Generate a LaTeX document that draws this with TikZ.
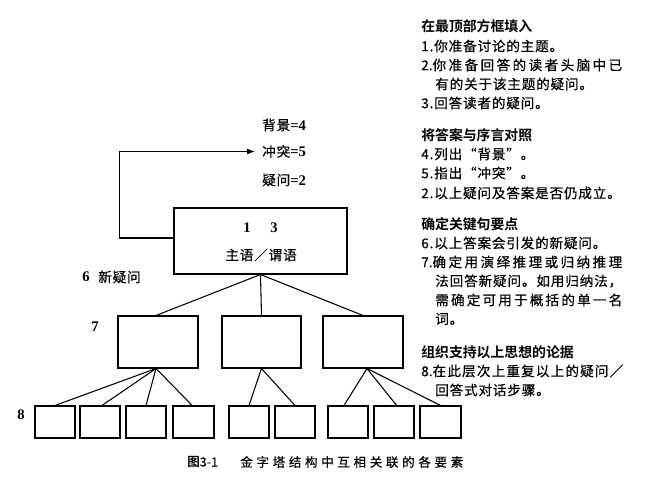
\documentclass[tikz,border=0pt]{standalone}
\usepackage{fontspec}
\setmainfont{Liberation Serif}
\newfontfamily\cjk[LetterSpace=6,FakeBold=0.5]{Noto Sans CJK SC}
\newfontfamily\cjkj[FakeBold=0.5]{Noto Sans CJK SC}
\newfontfamily\cjkh{Noto Sans CJK SC Bold}
\usetikzlibrary{arrows.meta}
\makeatletter
\def\jl@end{\jl@end}
\def\jl@loop#1{\ifx#1\jl@end\else\hfil#1\expandafter\jl@loop\fi}
\def\jl@first#1{#1\jl@loop}
\newcommand\jline[3]{\hbox to #1{#2\jl@first#3\jl@end}}
\makeatother
\newcommand\bodyf{\cjk\fontsize{10.2pt}{12pt}\selectfont}
\newcommand\bodyj{\cjkj\fontsize{10.2pt}{12pt}\selectfont}
\newcommand\headf{\cjkh\fontsize{10.4pt}{12pt}\selectfont}
\newcommand\numf{\rmfamily\bfseries\fontsize{11pt}{13pt}\selectfont}
\tikzset{
  bx/.style 2 args={draw, line width=0.8pt, inner sep=0pt, minimum width=#1*0.75pt, minimum height=#2*0.75pt},
  txt/.style={inner sep=0pt, anchor=west, font=\bodyf},
  jtxt/.style={inner sep=0pt, anchor=west, font=\bodyj},
  hd/.style={inner sep=0pt, anchor=west, font=\headf},
  lbl/.style={inner sep=0pt, font=\numf},
  conn/.style={line width=0.8pt},
  arr/.style={line width=0.8pt, -{Latex[length=6pt,width=4.5pt]}}
}
\begin{document}
\begin{tikzpicture}[x=0.75pt, y=-0.75pt]
\useasboundingbox (0,0) rectangle (650,477);
% boxes
\node[bx={173}{66}] (top) at (260.5,241) {};
\node[bx={80}{52}] (m1) at (158,342) {};
\node[bx={79}{52}] (m2) at (261.5,342) {};
\node[bx={80}{52}] (m3) at (363,342) {};
\node[bx={40}{32}] (a) at (55,422) {};
\node[bx={40}{32}] (b) at (100,422) {};
\node[bx={40}{32}] (c) at (146,422) {};
\node[bx={41}{32}] (d) at (193.5,422) {};
\node[bx={40}{32}] (e) at (249,422) {};
\node[bx={40}{32}] (f) at (295,422) {};
\node[bx={40}{32}] (g) at (348,422) {};
\node[bx={40}{32}] (h) at (394,422) {};
\node[bx={41}{32}] (i) at (440.5,422) {};
% texts in top box
\node[lbl] (n1) at (247,228) {1};
\node[lbl] (n3) at (274,228) {3};
\node[inner sep=0pt, font=\bodyf] (sp) at (261,255) {主语／谓语};
% connectors
\draw[conn] (top.south) -- ([xshift=-1.5pt]m1.north);
\draw[conn] (top.south) -- (m2.north);
\draw[conn] (top.south) -- (m3.north);
\draw[conn] ([xshift=-1.5pt]m1.south) -- (a.north);
\draw[conn] ([xshift=-1.5pt]m1.south) -- ([xshift=1.5pt]b.north);
\draw[conn] ([xshift=-1.5pt]m1.south) -- (c.north);
\draw[conn] ([xshift=-1.5pt]m1.south) -- ([xshift=-1pt]d.north);
\draw[conn] (m2.south) -- (e.north);
\draw[conn] (m2.south) -- (f.north);
\draw[conn] ([xshift=3pt]m3.south) -- ([xshift=-3pt]g.north);
\draw[conn] ([xshift=3pt]m3.south) -- ([xshift=2pt]h.north);
\draw[conn] ([xshift=3pt]m3.south) -- (i.north);
% feedback arrow and labels
\node[inner sep=0pt, anchor=west] (bg) at (262,125) {{\bodyf 背景}{\numf =4}};
\node[inner sep=0pt, anchor=west] (ct) at (262,151.5) {{\bodyf 冲突}{\numf =5}};
\node[inner sep=0pt, anchor=west] (yw) at (262,180) {{\bodyf 疑问}{\numf =2}};
\coordinate (tip) at (255,151.5);
\draw[arr] ([yshift=2.25pt]top.west) -- ++(-54,0) |- (tip);
% level labels
\node[lbl] (l6) at (86,277) {6};
\node[txt] (l6t) at (98,277) {新疑问};
\node[lbl] (l7) at (95,327) {7};
\node[lbl] (l8) at (21,415) {8};
% right column
\node[hd] (h1) at (421,26) {在最顶部方框填入};
\node[txt] (r1) at (421,46) {1.你准备讨论的主题。};
\node[jtxt] (r2) at (421,65) {\jline{150.75pt}{2.}{你准备回答的读者头脑中已}};
\node[txt] (r2b) at (435,84) {有的关于该主题的疑问。};
\node[txt] (r3) at (421,103) {3.回答读者的疑问。};
\node[hd] (h2) at (421,135) {将答案与序言对照};
\node[txt] (r4) at (421,154) {4.列出“背景”。};
\node[txt] (r5) at (421,173) {5.指出“冲突”。};
\node[txt] (r6) at (421,193) {2.以上疑问及答案是否仍成立。};
\node[hd] (h3) at (421,224) {确定关键句要点};
\node[txt] (r7) at (421,243) {6.以上答案会引发的新疑问。};
\node[jtxt] (r8) at (421,262) {\jline{150.75pt}{7.}{确定用演绎推理或归纳推理}};
\node[jtxt] (r8b) at (435,281) {\jline{140.25pt}{}{法回答新疑问。如用归纳法，}};
\node[jtxt] (r8c) at (435,300) {\jline{140.25pt}{}{需确定可用于概括的单一名}};
\node[txt] (r8d) at (435,319) {词。};
\node[hd] (h4) at (421,352) {组织支持以上思想的论据};
\node[jtxt] (r9) at (421,371) {\jline{151.5pt}{8.}{在此层次上重复以上的疑问／}};
\node[txt] (r9b) at (435,390) {回答式对话步骤。};
% caption
\node[inner sep=0pt, anchor=west] (capn) at (187,462) {{\cjkh\fontsize{9.4pt}{11pt}\selectfont 图}{\cjkj\fontsize{9.4pt}{11pt}\selectfont 3-1}};
\node[inner sep=0pt, anchor=west, font={\cjkj\fontsize{9.4pt}{11pt}\selectfont}] (cap) at (240,462) {\jline{167.25pt}{}{金字塔结构中互相关联的各要素}};
\end{tikzpicture}
\end{document}
